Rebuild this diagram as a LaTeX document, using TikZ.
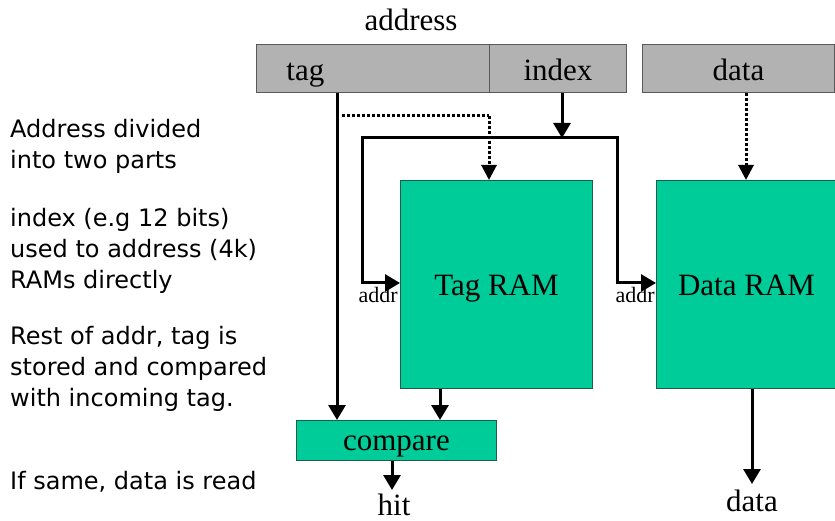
\documentclass[tikz,border=0pt]{standalone}
\usepackage{fontspec}
\setmainfont{Liberation Serif}
\newfontfamily\notefont{DejaVu Sans}
\usetikzlibrary{arrows.meta}
\definecolor{ramgreen}{HTML}{00CC99}
\definecolor{fieldgray}{HTML}{B2B2B2}
\definecolor{ramedge}{HTML}{1F5F4A}
\begin{document}
\begin{tikzpicture}[x=1pt,y=-1pt,
  bigfont/.style={font=\fontsize{31}{31}\selectfont},
  field/.style={draw=black!65, fill=fieldgray, line width=0.9pt, inner sep=0pt,
     anchor=north west, bigfont, minimum height=48pt, text height=28pt, text depth=4pt},
  ram/.style={draw=ramedge, fill=ramgreen, line width=0.9pt, inner sep=0pt,
     anchor=north west, bigfont, text height=26pt, text depth=4pt},
  wire/.style={line width=3pt},
  arr/.style={line width=3pt, -{Triangle[width=17pt,length=15pt]}},
  dotarr/.style={line width=3pt, dash pattern=on 3pt off 2pt,
     -{Triangle[width=15pt,length=15pt]}},
  dotwire/.style={line width=3pt, dash pattern=on 3pt off 2pt},
  small/.style={font=\fontsize{22}{22}\selectfont, inner sep=0pt},
  lbl/.style={bigfont, inner sep=0pt},
  note/.style={anchor=north west, inner sep=0pt, align=left,
     font=\notefont\fontsize{24}{31}\selectfont}]
\useasboundingbox (0,0) rectangle (835,521);

% address fields
\node[field, text width=173pt, inner xsep=30pt, align=left]
  (tagf) at (256,44) {tag};
\node[field, minimum width=137pt] (indexf) at (489,44) {index};
\node[field, minimum width=192pt] (dataf) at (642,44) {data};
\node[lbl, anchor=base] (addrlbl) at (411,31) {address};

% RAMs and compare
\node[ram, minimum width=192pt, minimum height=208pt] (tagram) at (400,180) {Tag RAM};
\node[ram, minimum width=180pt, minimum height=208pt] (dataram) at (656,180) {Data RAM};
\node[ram, minimum width=200pt, minimum height=40pt, text height=24pt, text depth=4pt]
  (cmp) at (296,420) {compare};

% coordinates for routing
\coordinate (tx) at (337,0);
\coordinate (dotstart) at (342,116);
\coordinate (dotcorner) at (489,116);
\coordinate (ix) at (562,0);
\coordinate (busL) at (362,138);
\coordinate (busR) at (617,138);
\coordinate (busM) at (562,138);
\coordinate (ly) at (0,283);
\coordinate (tox) at (440,0);
\coordinate (hx) at (392,0);
\coordinate (hitend) at (392,490);
\coordinate (dx) at (752,0);
\coordinate (dataend) at (752,484);
\coordinate (ddx) at (746,0);

% tag line to compare
\draw[arr] (tx |- tagf.south) -- (tx |- cmp.north);
% dotted tag to Tag RAM
\draw[dotwire] (dotstart) -- (dotcorner);
\draw[dotarr] (dotcorner) -- (dotcorner |- tagram.north);
% index to bus
\draw[arr] (ix |- indexf.south) -- (busM);
% bus
\draw[wire, line join=miter] (busL |- ly) -- (busL) -- (busR) -- (busR |- ly);
\draw[arr] ([xshift=-1.5pt]busL |- ly) -- (tagram.west |- ly);
\draw[arr] ([xshift=-1.5pt]busR |- ly) -- (dataram.west |- ly);
\node[small, anchor=north east] (addr1) at ([xshift=-2pt,yshift=-4pt]tagram.west |- ly) {addr};
\node[small, anchor=north east] (addr2) at ([xshift=-1pt,yshift=-4pt]dataram.west |- ly) {addr};
% data dotted
\draw[dotarr] (ddx |- dataf.south) -- (ddx |- dataram.north);
% Tag RAM to compare
\draw[arr] (tox |- tagram.south) -- (tox |- cmp.north);
% compare to hit
\draw[arr] (hx |- cmp.south) -- (hitend);
\node[lbl, anchor=base] (hit) at (394,515) {hit};
% data out
\draw[arr] (dx |- dataram.south) -- (dataend);
\node[lbl, anchor=base] (datal) at (752,511) {data};

% notes
\node[note] (note1) at (10,119) {Address divided\\ into two parts};
\node[note] (note2) at (10,208) {index (e.g 12 bits)\\ used to address (4k)\\ RAMs directly};
\node[note] (note3) at (10,326) {Rest of addr, tag is\\ stored and compared\\ with incoming tag.};
\node[note] (note4) at (10,471) {If same, data is read};
\end{tikzpicture}
\end{document}
